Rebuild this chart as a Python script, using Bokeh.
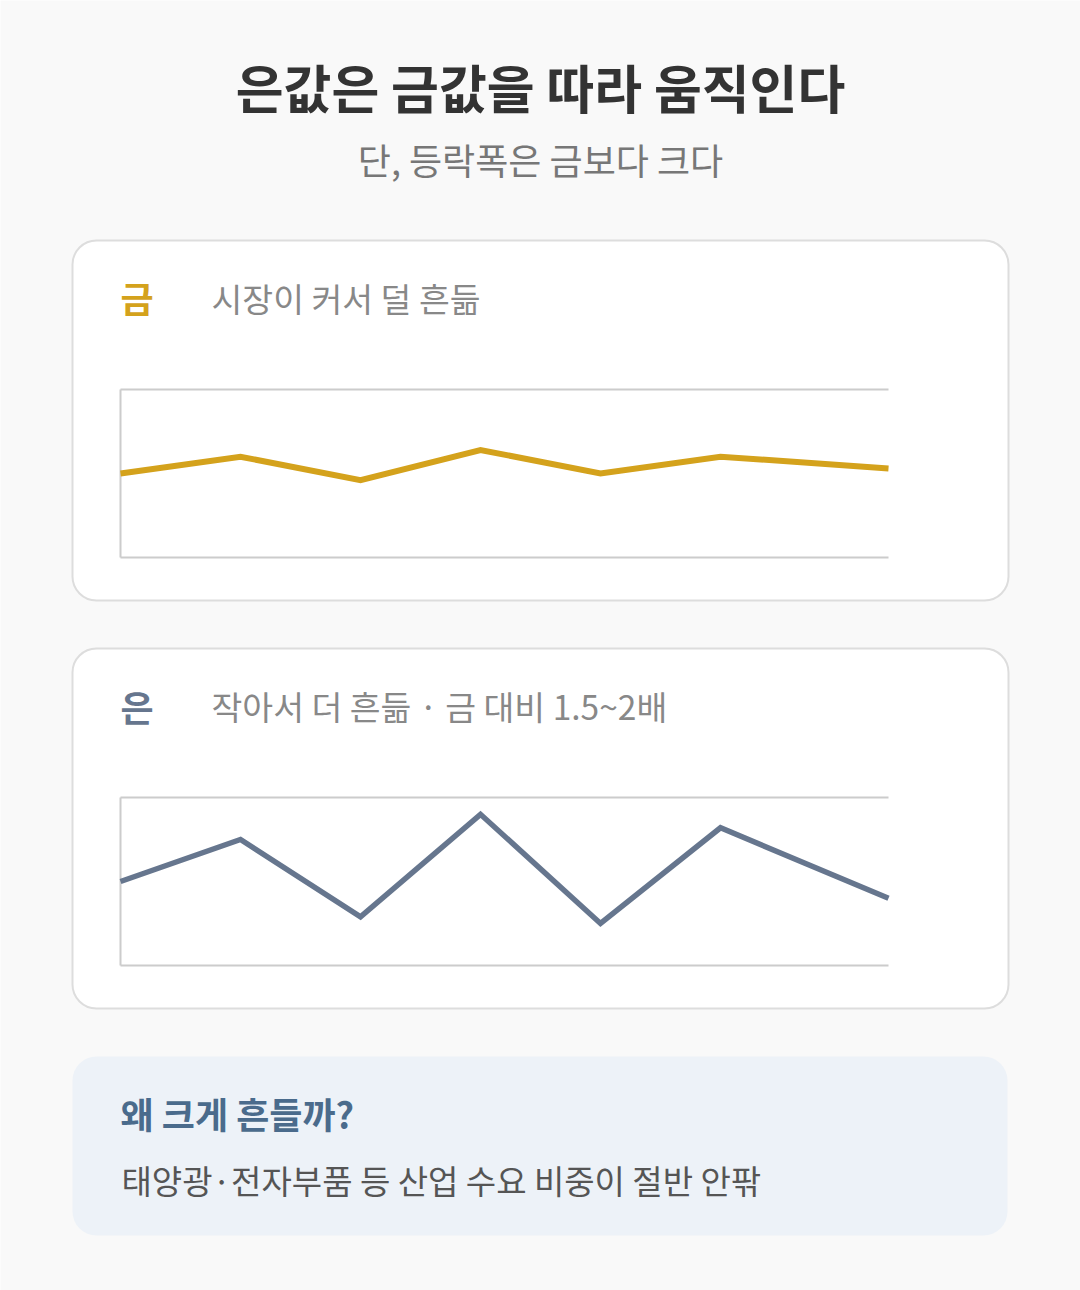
from bokeh.plotting import figure
from bokeh.models import Range1d
from bokeh.embed import file_html
from bokeh.resources import INLINE
from bokeh.core.properties import value

# ---------------- data ----------------
months = [0, 1, 2, 3, 4, 5, 6.4]
gold = [50, 60, 46, 64, 50, 60, 53]
silver = [50, 75, 29, 90, 25, 82, 40]
y_min, y_max = 0, 100

title = "은값은 금값을 따라 움직인다"
subtitle = "단, 등락폭은 금보다 크다"
gold_label = "금"
gold_note = "시장이 커서 덜 흔듦"
silver_label = "은"
silver_note = "작아서 더 흔듦 · 금 대비 1.5~2배"
info_title = "왜 크게 흔들까?"
info_body = "태양광·전자부품 등 산업 수요 비중이 절반 안팎"

# ---------------- layout / style ----------------
FONT = value("Noto Sans CJK KR")
BG = "#f9f9f9"
GOLD = "#D4A21C"
SILVER = "#66768E"
W, H = 1080, 1290
OFF = 0

p = figure(width=W, height=H, x_range=Range1d(OFF, OFF + W), y_range=Range1d(OFF + H, OFF),
           output_backend="svg", toolbar_location=None, tools="",
           x_axis_location=None, y_axis_location=None, min_border=0)
p.grid.visible = False
p.outline_line_color = None
p.background_fill_color = BG
p.border_fill_color = BG

# chart scales (each mini chart: left 120, step 120px, plot height 168px)
CH_LEFT, CH_STEP, CH_H = 120, 120, 168
p.extra_x_ranges = {"t": Range1d(start=(OFF - CH_LEFT) / CH_STEP, end=(OFF + W - CH_LEFT) / CH_STEP)}


def yrange(bottom_px):
    s = CH_H / (y_max - y_min)
    return Range1d(start=y_min - (OFF + H - bottom_px) / s, end=y_min + (bottom_px - OFF) / s)


p.extra_y_ranges = {"gold": yrange(557), "silver": yrange(965)}

# cards
p.quad(left=[72, 72], right=[1008, 1008], top=[240, 648], bottom=[600, 1008],
       fill_color="white", line_color="#dddddd", line_width=2, border_radius=24)
p.quad(left=[72], right=[1007], top=[1056], bottom=[1235],
       fill_color="#edf2f8", line_color=None, border_radius=24)

# texts
def txt(x, y, s, size, color, bold=False, align="left"):
    p.text(x=[x], y=[y], text=[s], text_font=FONT, text_font_size=f"{size}px",
           text_font_style="bold" if bold else "normal", text_color=color,
           text_align=align, text_baseline="middle")


txt(540, 86, title, 52, "#333333", bold=True, align="center")
txt(540, 158, subtitle, 36, "#777777", align="center")
txt(120, 296, gold_label, 36, GOLD, bold=True)
txt(211, 297, gold_note, 33.5, "#888888")
txt(120, 705, silver_label, 36, SILVER, bold=True)
txt(211, 705, silver_note, 33.5, "#888888")
txt(120, 1112, info_title, 36, "#4a6b8c", bold=True)
txt(121, 1179, info_body, 33, "#555555")

# mini charts
x0, x1 = months[0], months[-1]
for name, series, color, lw in (("gold", gold, GOLD, 6), ("silver", silver, SILVER, 5.5)):
    p.multi_line(xs=[[x0, x1], [x0, x0], [x0, x1]],
                 ys=[[y_max, y_max], [y_min, y_max], [y_min, y_min]],
                 line_color="#cccccc", line_width=2,
                 x_range_name="t", y_range_name=name)
    p.line(months, series, line_color=color, line_width=lw, line_join="miter",
           x_range_name="t", y_range_name=name)

open("out.html", "w").write(file_html(p, INLINE))
